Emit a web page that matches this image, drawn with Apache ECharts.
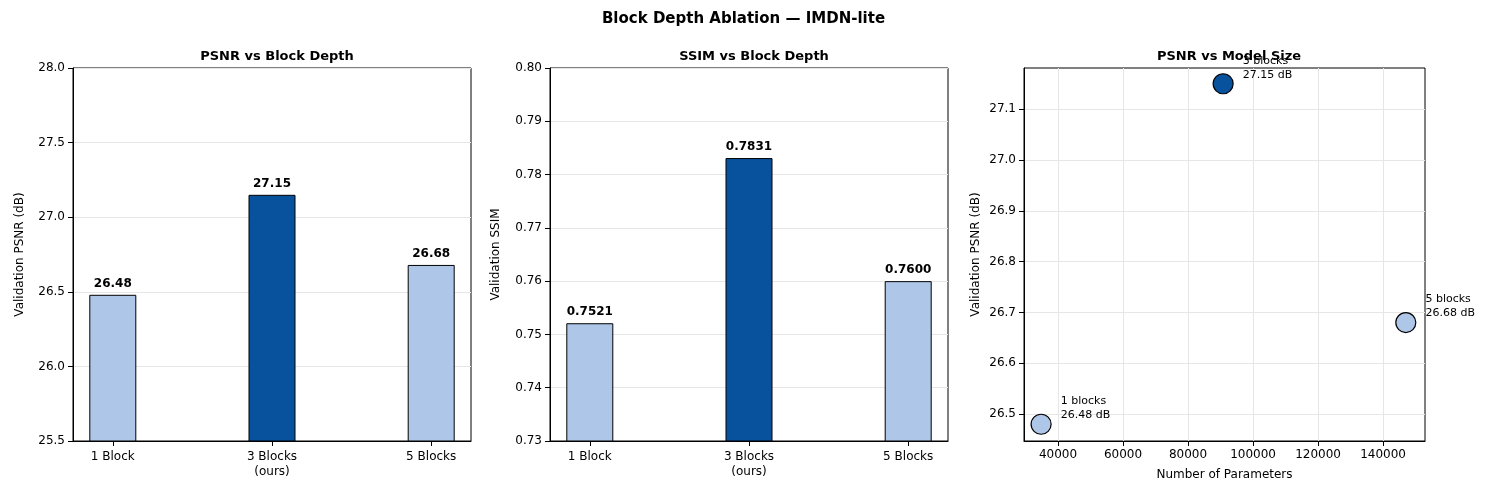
<!DOCTYPE html>
<html><head><meta charset="utf-8">
<script src="https://cdn.jsdelivr.net/npm/echarts@6/dist/echarts.min.js"></script>
<style>html,body{margin:0;padding:0;background:#fff}#c{width:1487px;height:495px}</style>
</head><body><div id="c"></div>
<script>
const categories = ['1 Block', '3 Blocks\n(ours)', '5 Blocks'];
const psnr = [26.48, 27.15, 26.68];
const ssim = [0.7521, 0.7831, 0.7600];
const params = [34800, 90800, 147000];
const scatterLabels = ['1 blocks', '3 blocks', '5 blocks'];
const psnrTicks = [26.5, 26.6, 26.7, 26.8, 26.9, 27.0, 27.1];
const paramTicks = [40000, 60000, 80000, 100000, 120000, 140000];
const catTicks = [0, 1, 2];
const light = '#aec7e8', dark = '#08519c';
const F = 'DejaVu Sans';
const colors = [light, dark, light];
const axisCommon = {
  axisLine: {show: true, onZero: false, lineStyle: {color: '#000'}},
  axisTick: {show: true, lineStyle: {color: '#000'}},
  axisLabel: {color: '#000', fontFamily: F, fontSize: 12}
};
const grid = {lineStyle: {color: '#e6e6e6', width: 1}};
function bars(vals){
  return vals.map((v,i)=>({value: [i, v], itemStyle: {color: colors[i], borderColor: '#000', borderWidth: 1}}));
}
function catX(idx){
  return Object.assign({type: 'value', gridIndex: idx, min: -0.25, max: 2.25, splitLine: {show: false}}, axisCommon, {
    axisTick: {show: true, customValues: catTicks, lineStyle: {color: '#000'}},
    axisLabel: {color: '#000', fontFamily: F, fontSize: 12, lineHeight: 15, customValues: catTicks, formatter: v => categories[Math.round(v)]}
  });
}
const chart = echarts.init(document.getElementById('c'));
chart.setOption({
  animation: false,
  title: [
    {text: 'Block Depth Ablation — IMDN-lite', left: 'center', top: 7, textStyle: {fontFamily: F, fontSize: 15, fontWeight: 'bold', color: '#000'}},
    {text: 'PSNR vs Block Depth', left: 272, top: 45, textAlign: 'center', textStyle: {fontFamily: F, fontSize: 13, fontWeight: 'bold', color: '#000'}},
    {text: 'SSIM vs Block Depth', left: 749, top: 45, textAlign: 'center', textStyle: {fontFamily: F, fontSize: 13, fontWeight: 'bold', color: '#000'}},
    {text: 'PSNR vs Model Size', left: 1224, top: 45, textAlign: 'center', textStyle: {fontFamily: F, fontSize: 13, fontWeight: 'bold', color: '#000'}}
  ],
  grid: [
    {left: 73, right: 1016, top: 68, bottom: 54, show: true, borderColor: '#000', borderWidth: 1},
    {left: 550, right: 539, top: 68, bottom: 54, show: true, borderColor: '#000', borderWidth: 1},
    {left: 1024, right: 62, top: 68, bottom: 54, show: true, borderColor: '#000', borderWidth: 1}
  ],
  xAxis: [
    catX(0),
    catX(1),
    Object.assign({type: 'value', gridIndex: 2, min: 29538, max: 152900, name: 'Number of Parameters', nameLocation: 'middle', nameGap: 28,
      nameTextStyle: {fontFamily: F, fontSize: 12, color: '#000'}}, axisCommon, {
      axisTick: {show: true, customValues: paramTicks, lineStyle: {color: '#000'}},
      axisLabel: {color: '#000', fontFamily: F, fontSize: 12, customValues: paramTicks, formatter: v => String(v)},
      splitLine: {show: true, lineStyle: {color: '#e6e6e6'}}})
  ],
  yAxis: [
    Object.assign({type: 'value', gridIndex: 0, min: 25.5, max: 28, interval: 0.5, name: 'Validation PSNR (dB)', nameLocation: 'middle', nameGap: 47,
      nameTextStyle: {fontFamily: F, fontSize: 12, color: '#000'}, splitLine: Object.assign({show: true}, grid)}, axisCommon,
      {axisLabel: {color: '#000', fontFamily: F, fontSize: 12, formatter: v => v.toFixed(1)}}),
    Object.assign({type: 'value', gridIndex: 1, min: 0.73, max: 0.80, interval: 0.01, name: 'Validation SSIM', nameLocation: 'middle', nameGap: 48,
      nameTextStyle: {fontFamily: F, fontSize: 12, color: '#000'}, splitLine: Object.assign({show: true}, grid)}, axisCommon,
      {axisLabel: {color: '#000', fontFamily: F, fontSize: 12, formatter: v => v.toFixed(2)}}),
    Object.assign({type: 'value', gridIndex: 2, min: 26.447, max: 27.181, name: 'Validation PSNR (dB)', nameLocation: 'middle', nameGap: 42,
      nameTextStyle: {fontFamily: F, fontSize: 12, color: '#000'}}, axisCommon, {
      axisTick: {show: true, customValues: psnrTicks, lineStyle: {color: '#000'}},
      axisLabel: {color: '#000', fontFamily: F, fontSize: 12, customValues: psnrTicks, formatter: v => v.toFixed(1)},
      splitLine: {show: true, lineStyle: {color: '#e6e6e6'}}})
  ],
  series: [
    {type: 'bar', xAxisIndex: 0, yAxisIndex: 0, barWidth: 47, data: bars(psnr),
      label: {show: true, position: 'top', fontFamily: F, fontWeight: 'bold', fontSize: 12, color: '#000', formatter: p => p.value[1].toFixed(2)}},
    {type: 'bar', xAxisIndex: 1, yAxisIndex: 1, barWidth: 47, data: bars(ssim),
      label: {show: true, position: 'top', fontFamily: F, fontWeight: 'bold', fontSize: 12, color: '#000', formatter: p => p.value[1].toFixed(4)}},
    {type: 'scatter', xAxisIndex: 2, yAxisIndex: 2, symbolSize: 20,
      data: params.map((p,i)=>({value: [p, psnr[i]], itemStyle: {color: colors[i], borderColor: '#000', borderWidth: 1.2, opacity: 1}})),
      label: {show: true, position: 'right', offset: [4, -16], align: 'left', fontFamily: F, fontSize: 11, color: '#000', lineHeight: 14,
        formatter: p => scatterLabels[p.dataIndex] + '\n' + psnr[p.dataIndex].toFixed(2) + ' dB'}}
  ]
});
</script></body></html>
